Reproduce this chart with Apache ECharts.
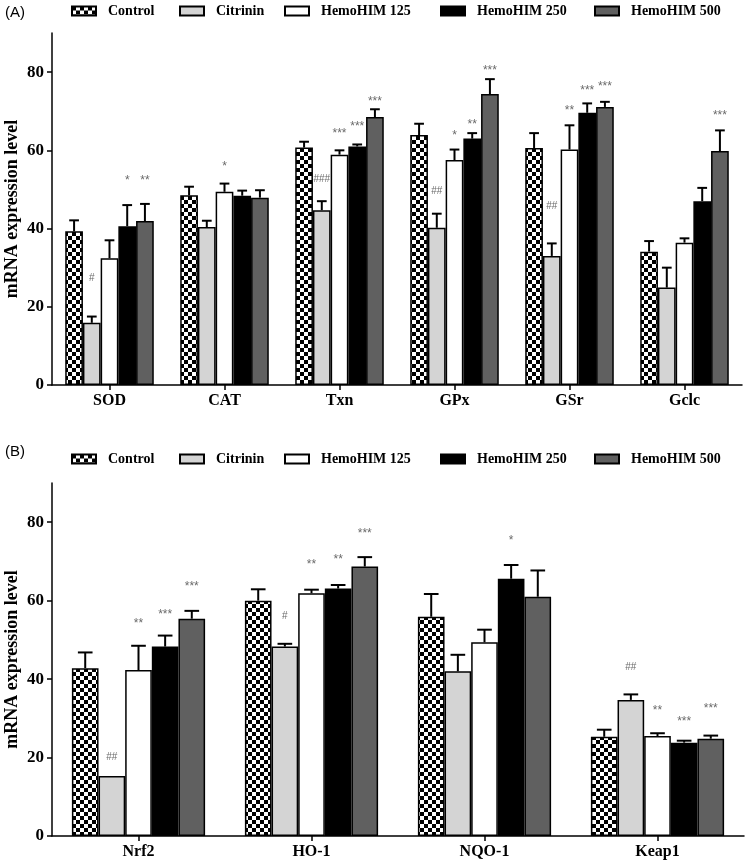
<!DOCTYPE html>
<html><head><meta charset="utf-8">
<script src="https://cdn.jsdelivr.net/npm/echarts@6/dist/echarts.min.js"></script>
<style>html,body{margin:0;padding:0;background:#fff}#c{width:750px;height:864px}</style>
</head><body><div id="c"></div>
<script>
// ---------- DATA ----------
const groups = ['Control', 'Citrinin', 'HemoHIM 125', 'HemoHIM 250', 'HemoHIM 500'];
const catsA = ['SOD', 'CAT', 'Txn', 'GPx', 'GSr', 'Gclc'];
const catsB = ['Nrf2', 'HO-1', 'NQO-1', 'Keap1'];
const yTicks = [0, 20, 40, 60, 80];
const yMax = 90;

// Panel A means and upper error (SEM)
const meanA_control = [39.3, 48.5, 60.7, 63.9, 60.6, 34.1];
const meanA_citrinin = [15.9, 40.4, 44.7, 40.2, 33.0, 24.9];
const meanA_h125 = [32.4, 49.4, 58.9, 57.5, 60.2, 36.4];
const meanA_h250 = [40.6, 48.4, 61.0, 63.0, 69.6, 47.0];
const meanA_h500 = [41.9, 47.9, 68.5, 74.4, 71.1, 59.8];
const semA_control = [2.8, 2.2, 1.5, 2.9, 3.8, 2.7];
const semA_citrinin = [1.6, 1.6, 2.3, 3.6, 3.2, 5.1];
const semA_h125 = [4.6, 2.1, 1.1, 2.7, 6.2, 1.1];
const semA_h250 = [5.4, 1.3, 0.5, 1.4, 2.4, 3.4];
const semA_h500 = [4.4, 1.9, 2.0, 3.8, 1.3, 5.3];
// significance marks (text and height in axis units)
const sigA_control = ['', '', '', '', '', ''];
const sigA_citrinin = ['#', '', '###', '##', '##', ''];
const sigA_h125 = ['', '*', '***', '*', '**', ''];
const sigA_h250 = ['*', '', '***', '**', '***', ''];
const sigA_h500 = ['**', '', '***', '***', '***', '***'];
const sigYA_control = [0, 0, 0, 0, 0, 0];
const sigYA_citrinin = [27.3, 0, 52.6, 49.6, 45.7, 0];
const sigYA_h125 = [0, 56.7, 64.9, 64.4, 70.8, 0];
const sigYA_h250 = [53.1, 0, 66.7, 67.4, 76.1, 0];
const sigYA_h500 = [53.1, 0, 73.3, 81.2, 77.1, 69.7];

// Panel B
const meanB_control = [42.8, 60.0, 55.9, 25.3];
const meanB_citrinin = [15.3, 48.3, 42.0, 34.7];
const meanB_h125 = [42.3, 61.9, 49.4, 25.5];
const meanB_h250 = [48.3, 63.1, 65.6, 23.8];
const meanB_h500 = [55.4, 68.7, 61.0, 24.8];
const semB_control = [4.0, 2.9, 5.8, 1.8];
const semB_citrinin = [0, 0.7, 4.2, 1.4];
const semB_h125 = [6.2, 0.9, 3.2, 0.7];
const semB_h250 = [2.8, 0.9, 3.5, 0.5];
const semB_h500 = [2.0, 2.4, 6.7, 0.8];
const sigB_control = ['', '', '', ''];
const sigB_citrinin = ['##', '#', '', '##'];
const sigB_h125 = ['**', '**', '', '**'];
const sigB_h250 = ['***', '**', '*', '***'];
const sigB_h500 = ['***', '***', '', '***'];
const sigYB_control = [0, 0, 0, 0];
const sigYB_citrinin = [20.1, 55.9, 0, 43.1];
const sigYB_h125 = [54.8, 69.9, 0, 32.6];
const sigYB_h250 = [57.1, 71.2, 76.0, 29.8];
const sigYB_h500 = [64.3, 77.8, 0, 33.1];

// ---------- STYLE ----------
const SERIF = '"Liberation Serif", "Times New Roman", serif';
const CAT_GAP = 0.23;

function checker(cell) {
  const c = document.createElement('canvas');
  c.width = cell * 2; c.height = cell * 2;
  const g = c.getContext('2d');
  g.fillStyle = '#fff'; g.fillRect(0, 0, cell * 2, cell * 2);
  g.fillStyle = '#000';
  g.fillRect(0, 0, cell, cell); g.fillRect(cell, cell, cell, cell);
  return { image: c, repeat: 'repeat' };
}
const patA = checker(4), patB = checker(4);
const fillsA = [patA, '#d4d4d4', '#ffffff', '#000000', '#606060'];
const fillsB = [patB, '#d4d4d4', '#ffffff', '#000000', '#606060'];

const panelA = {
  means: [meanA_control, meanA_citrinin, meanA_h125, meanA_h250, meanA_h500],
  sems: [semA_control, semA_citrinin, semA_h125, semA_h250, semA_h500],
  sig: [sigA_control, sigA_citrinin, sigA_h125, sigA_h250, sigA_h500],
  sigY: [sigYA_control, sigYA_citrinin, sigYA_h125, sigYA_h250, sigYA_h500]
};
const panelB = {
  means: [meanB_control, meanB_citrinin, meanB_h125, meanB_h250, meanB_h500],
  sems: [semB_control, semB_citrinin, semB_h125, semB_h250, semB_h500],
  sig: [sigB_control, sigB_citrinin, sigB_h125, sigB_h250, sigB_h500],
  sigY: [sigYB_control, sigYB_citrinin, sigYB_h125, sigYB_h250, sigYB_h500]
};

const series = [];
function addPanel(p, axisIdx, fills) {
  groups.forEach((g, gi) => {
    series.push({
      type: 'bar', name: g, xAxisIndex: axisIdx, yAxisIndex: axisIdx,
      data: p.means[gi], barGap: '0%', barCategoryGap: (CAT_GAP * 100) + '%',
      itemStyle: { color: fills[gi], borderColor: '#000', borderWidth: 1.5 },
      emphasis: { disabled: true }, z: 2
    });
  });
  groups.forEach((g, gi) => {
    series.push({
      type: 'custom', name: g, xAxisIndex: axisIdx, yAxisIndex: axisIdx, z: 5,
      data: p.means[gi].map((m, i) => [i, m, p.sems[gi][i]]),
      encode: { x: 0, y: 1 },
      renderItem(params, api) {
        const ci = api.value(0), m = api.value(1), s = api.value(2);
        const band = api.size([1, 0])[0];
        const total = band * (1 - CAT_GAP);
        const bw = total / 5;
        const cx = api.coord([ci, 0])[0] - total / 2 + bw * (gi + 0.5);
        const yTop = api.coord([ci, m])[1];
        const yErr = api.coord([ci, m + s])[1];
        const cap = bw * 0.55;
        const children = [];
        if (s > 0) {
          children.push({ type: 'line', shape: { x1: cx, y1: yTop, x2: cx, y2: yErr }, style: { stroke: '#000', lineWidth: 2 } });
          children.push({ type: 'line', shape: { x1: cx - cap / 2, y1: yErr, x2: cx + cap / 2, y2: yErr }, style: { stroke: '#000', lineWidth: 2 } });
        }
        const t = p.sig[gi][params.dataIndex];
        if (t) {
          const ty = api.coord([ci, p.sigY[gi][params.dataIndex]])[1] + (t.indexOf('*') >= 0 ? 3 : 0);
          children.push({ type: 'text', x: cx, y: ty, style: { text: t, fill: '#6a6a6a', font: (t.indexOf('*') >= 0 ? '12px' : '10px') + ' "Liberation Sans", sans-serif', align: 'center', verticalAlign: 'middle' } });
        }
        return { type: 'group', children };
      }
    });
  });
}
addPanel(panelA, 0, fillsA);
addPanel(panelB, 1, fillsB);

function yAxis(gridIndex) {
  return {
    type: 'value', gridIndex, min: 0, max: yMax,
    name: 'mRNA expression level', nameLocation: 'middle', nameGap: 31, nameMoveOverlap: false,
    nameTextStyle: { fontFamily: SERIF, fontWeight: 'bold', fontSize: 18, color: '#000' },
    axisLine: { show: true, lineStyle: { color: '#000', width: 1.5 } },
    axisTick: { show: true, length: 5, customValues: yTicks, lineStyle: { color: '#000', width: 1.5 } },
    axisLabel: { customValues: yTicks, margin: 8, fontFamily: SERIF, fontWeight: 'bold', fontSize: 17, color: '#000' },
    splitLine: { show: false }
  };
}
function xAxis(gridIndex, cats) {
  return {
    type: 'category', gridIndex, data: cats,
    axisLine: { show: true, lineStyle: { color: '#000', width: 1.5 } },
    axisTick: { show: true, alignWithLabel: true, interval: 0, length: 5, lineStyle: { color: '#000', width: 1.5 } },
    axisLabel: { interval: 0, margin: 8, fontFamily: SERIF, fontWeight: 'bold', fontSize: 16, color: '#000' },
    splitLine: { show: false }
  };
}

const legendX = [71, 179, 284, 440, 594];
const legends = [];
[12, 460].forEach(cy => {
  groups.forEach((g, gi) => {
    legends.push({
      data: [g], left: legendX[gi], top: cy - 8, itemWidth: 24, itemHeight: 9, icon: 'rect',
      selectedMode: false, padding: 0, height: 16,
      textStyle: { fontFamily: SERIF, fontWeight: 'bold', fontSize: 14, color: '#000', padding: [0, 0, 0, 7] }
    });
  });
});

const chart = echarts.init(document.getElementById('c'), null, { renderer: 'canvas' });
chart.setOption({
  animation: false,
  backgroundColor: '#fff',
  grid: [
    { left: 52, top: 33, width: 690, height: 352, containLabel: false, outerBoundsMode: 'none' },
    { left: 52, top: 483, width: 692, height: 353, containLabel: false, outerBoundsMode: 'none' }
  ],
  xAxis: [xAxis(0, catsA), xAxis(1, catsB)],
  yAxis: [yAxis(0), yAxis(1)],
  legend: legends,
  graphic: [
    { type: 'text', left: 5, top: 5, style: { text: '(A)', font: '15px "Liberation Sans", sans-serif', fill: '#000' } },
    { type: 'text', left: 5, top: 444, style: { text: '(B)', font: '15px "Liberation Sans", sans-serif', fill: '#000' } }
  ],
  series
});
</script></body></html>
